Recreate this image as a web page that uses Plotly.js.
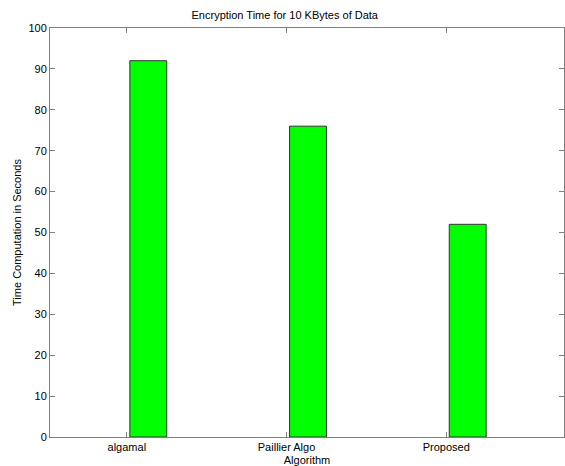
<!DOCTYPE html>
<html><head><meta charset="utf-8">
<script src="https://cdn.plot.ly/plotly-3.0.1.min.js"></script>
<style>html,body{margin:0;padding:0;background:#fff;}#chart{width:565px;height:466px;}</style>
</head><body><div id="chart"></div>
<script>
const categories = ["algamal", "Paillier Algo", "Proposed"];
const times = [92, 76, 52];
const yTicks = [0,10,20,30,40,50,60,70,80,90,100];

const trace = {
  type: 'bar', x: categories, y: times,
  width: 0.231, offset: 0.019,
  marker: {color: '#00ff00', line: {color: '#333333', width: 1}},
  hoverinfo: 'x+y'
};
const font = {family: 'Liberation Sans, Arial, sans-serif', size: 11, color: '#000'};
const layout = {
  width: 565, height: 466,
  margin: {l: 50, r: 1, t: 28, b: 29},
  paper_bgcolor: '#fff', plot_bgcolor: '#fff',
  font: font,
  showlegend: false,
  title: {text: 'Encryption Time for 10 KBytes of Data', font: {size: 11}, x: 0.504, xanchor: 'center', y: 0.968, yanchor: 'middle'},
  xaxis: {
    type: 'category', range: [-0.481, 2.7375],
    showline: true, linecolor: '#808080', linewidth: 1, mirror: 'ticks',
    ticks: 'inside', ticklen: 5, tickcolor: '#808080', tickwidth: 1,
    showgrid: false, zeroline: false, automargin: false,
    title: {text: 'Algorithm', standoff: 4, font: {size: 11}},
    tickfont: {size: 11}
  },
  yaxis: {
    range: [0, 100], tickvals: yTicks,
    showline: true, linecolor: '#808080', linewidth: 1, mirror: 'ticks',
    ticks: 'inside', ticklen: 5, tickcolor: '#808080', tickwidth: 1,
    showgrid: false, zeroline: false, automargin: false,
    title: {text: 'Time Computation in Seconds', standoff: 4, font: {size: 11}},
    tickfont: {size: 11}
  }
};
Plotly.newPlot('chart', [trace], layout, {displayModeBar: false, staticPlot: true});
</script></body></html>
